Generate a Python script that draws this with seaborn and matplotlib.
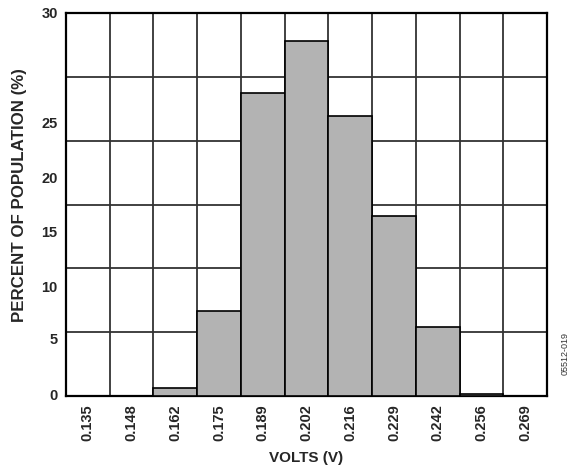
import matplotlib
matplotlib.use("Agg")
import matplotlib.pyplot as plt
import seaborn as sns
import numpy as np
import pandas as pd

volts = ["0.135", "0.148", "0.162", "0.175", "0.189", "0.202", "0.216", "0.229", "0.242", "0.256", "0.269"]
percent = [0.0, 0.0, 0.6, 6.7, 23.7, 27.8, 21.9, 14.1, 5.4, 0.2, 0.0]
ytick_labels = ["0", "5", "10", "15", "20", "25", "30"]
ytick_pos = [0.1, 4.5, 8.6, 12.9, 17.15, 21.4, 30.0]
grid_levels = [5, 10, 15, 20, 25]

sns.set_theme(style="white")
plt.rcParams['font.family'] = ['Liberation Sans', 'DejaVu Sans']

df = pd.DataFrame({"volts": volts, "percent": percent})

fig = plt.figure(figsize=(5.77, 4.71), dpi=100)
ax = fig.add_axes([0.1144, 0.159, 0.8336, 0.8134])

sns.barplot(data=df, x="volts", y="percent", order=volts, color="#b3b3b3",
            saturation=1, edgecolor="black", linewidth=1.2, width=1.0, ax=ax, zorder=3)

ax.set_xlim(-0.5, len(volts) - 0.5)
ax.set_ylim(0, 30)

# grid lines
ax.set_xticks(np.arange(len(volts) - 1) + 0.5, minor=True)
ax.set_yticks(grid_levels, minor=True)
ax.grid(False)
ax.grid(True, which="minor", color="#333333", linewidth=1.3, zorder=0)
ax.set_axisbelow(True)

ax.set_xticks(range(len(volts)))
ax.set_xticklabels(volts, rotation=90, fontsize=10.5, fontweight="bold")
ax.set_yticks(ytick_pos)
ax.set_yticklabels(ytick_labels, fontsize=10.5, fontweight="bold")
ax.tick_params(which="both", length=0, pad=6)

for s in ax.spines.values():
    s.set_visible(True)
    s.set_color("black")
    s.set_linewidth(1.6)

ax.set_xlabel("VOLTS (V)", fontsize=11, fontweight="bold", labelpad=7)
ax.set_ylabel("PERCENT OF POPULATION (%)", fontsize=12.2, fontweight="bold")
ax.yaxis.set_label_coords(-0.081, 0.525)

fig.text(0.979, 0.25, "05512-019", rotation=90, fontsize=6.5, color="#333333",
         ha="center", va="center")

fig.savefig("out.png", dpi=100)
